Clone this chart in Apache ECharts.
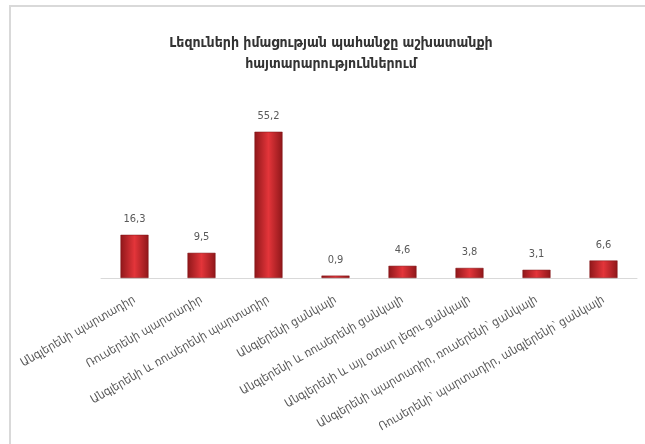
<!DOCTYPE html>
<html>
<head>
<meta charset="utf-8">
<script src="https://cdn.jsdelivr.net/npm/echarts@6/dist/echarts.min.js"></script>
<style>
html,body{margin:0;padding:0;background:#fff;}
#frame{position:absolute;left:9px;top:5px;width:640px;height:445px;border-top:2px solid #d9d9d9;border-left:2px solid #d9d9d9;box-sizing:border-box;}
#chart{position:absolute;left:0;top:0;width:645px;height:444px;}
</style>
</head>
<body>
<div id="frame"></div>
<div id="chart"></div>
<script>
var titleText = 'Լեզուների իմացության պահանջը աշխատանքի\nհայտարարություններում';
var categories = [
  'Անգլերենի պարտադիր',
  'Ռուսերենի պարտադիր',
  'Անգլերենի և ռուսերենի պարտադիր',
  'Անգլերենի ցանկալի',
  'Անգլերենի և ռուսերենի ցանկալի',
  'Անգլերենի և այլ օտար լեզու ցանկալի',
  'Անգլերենի պարտադիր, ռուսերենի՝ ցանկալի',
  'Ռուսերենի՝ պարտադիր, անգլերենի՝ ցանկալի'
];
var values = [16.3, 9.5, 55.2, 0.9, 4.6, 3.8, 3.1, 6.6];

var font = "'DejaVu Sans Condensed', 'DejaVu Sans', sans-serif";
var chart = echarts.init(document.getElementById('chart'));
chart.setOption({
  animation: false,
  title: {
    text: titleText,
    left: 326,
    textAlign: 'center',
    top: 28,
    textStyle: {fontFamily: font, fontSize: 14, fontWeight: 'bold', color: '#333', lineHeight: 21}
  },
  grid: {left: 101, right: 8, top: 119, bottom: 166},
  xAxis: {
    type: 'category',
    data: categories,
    axisTick: {show: false},
    axisLine: {lineStyle: {color: '#d9d9d9', width: 1}},
    axisLabel: {
      interval: 0,
      rotate: 30,
      margin: 21,
      fontFamily: font,
      fontSize: 11.8,
      color: '#595959'
    }
  },
  yAxis: {
    type: 'value',
    min: 0,
    max: 60,
    show: false,
    splitLine: {show: false}
  },
  series: [{
    type: 'bar',
    data: values,
    barWidth: 28,
    itemStyle: {
      color: new echarts.graphic.LinearGradient(0, 0, 1, 0, [
        {offset: 0, color: '#8f171a'},
        {offset: 0.5, color: '#e3353a'},
        {offset: 1, color: '#8f171a'}
      ]),
      borderColor: '#7f1215',
      borderWidth: 0.5
    },
    label: {
      show: true,
      position: 'top',
      distance: 10,
      fontFamily: font,
      fontSize: 11,
      color: '#595959',
      formatter: function (p) { return String(p.value).replace('.', ','); }
    }
  }]
});
</script>
</body>
</html>
